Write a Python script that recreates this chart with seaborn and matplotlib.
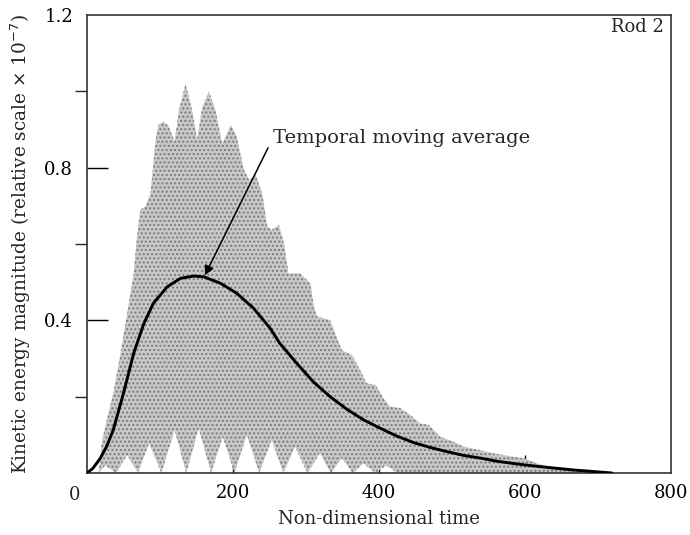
import numpy as np
import matplotlib
matplotlib.use("Agg")
import matplotlib.pyplot as plt
import seaborn as sns
import pandas as pd

# temporal moving average
avg_t = [0, 8, 18, 27, 36, 50, 64, 78, 91, 110, 128, 146, 160, 183, 205, 228,
         251, 264, 287, 310, 333, 356, 379, 402, 424, 447, 470, 493, 516, 539,
         561, 584, 600, 634, 666, 693, 719]
avg_y = [0.0, 0.012, 0.038, 0.07, 0.113, 0.209, 0.314, 0.392, 0.445, 0.488,
         0.510, 0.516, 0.514, 0.497, 0.471, 0.432, 0.379, 0.340, 0.288, 0.239,
         0.200, 0.167, 0.139, 0.117, 0.097, 0.080, 0.067, 0.056, 0.046, 0.039,
         0.031, 0.025, 0.021, 0.014, 0.008, 0.004, 0.0]

# upper envelope of the instantaneous kinetic energy
up_t = [16, 20, 27, 36, 46, 55, 64, 68, 73, 80, 87, 94, 98, 105, 112, 120,
        126, 135, 144, 151, 158, 167, 176, 185, 190, 197, 205, 215, 222, 231,
        240, 247, 253, 263, 270, 276, 292, 306, 310, 315, 333, 340, 349, 363,
        374, 383, 395, 406, 415, 429, 443, 456, 468, 484, 502, 516, 538, 561,
        584, 600, 616, 634, 657, 684, 716]
up_y = [0.0, 0.078, 0.139, 0.209, 0.314, 0.418, 0.523, 0.611, 0.690, 0.698,
        0.733, 0.873, 0.912, 0.921, 0.908, 0.868, 0.951, 1.02, 0.951, 0.873,
        0.960, 0.999, 0.951, 0.864, 0.882, 0.912, 0.882, 0.794, 0.768, 0.781,
        0.733, 0.646, 0.637, 0.650, 0.600, 0.523, 0.523, 0.497, 0.445, 0.410,
        0.401, 0.366, 0.322, 0.309, 0.270, 0.235, 0.231, 0.196, 0.174, 0.170,
        0.152, 0.130, 0.126, 0.095, 0.082, 0.069, 0.060, 0.050, 0.043, 0.038,
        0.025, 0.017, 0.011, 0.006, 0.0]

# lower envelope (oscillation minima)
low_t = [16, 25, 40, 55, 70, 85, 102, 120, 136, 153, 170, 186, 202, 219, 236,
         253, 269, 285, 302, 319, 334, 349, 364, 379, 395, 410, 425, 716]
low_y = [0, 0.02, 0, 0.047, 0, 0.078, 0, 0.113, 0, 0.117, 0, 0.095, 0, 0.100,
         0, 0.087, 0, 0.069, 0, 0.052, 0, 0.039, 0, 0.025, 0, 0.020, 0, 0]

x_ticks = [200, 400, 600, 800]
y_major = [0.4, 0.8, 1.2]
y_minor = [0.2, 0.6, 1.0]

sns.set_theme(style="ticks")
plt.rcParams["font.family"] = ["DejaVu Serif"]
plt.rcParams["hatch.linewidth"] = 1.0

fig = plt.figure(figsize=(6.9, 5.35), dpi=100)
ax = fig.add_axes([87 / 690, 62 / 535, 584 / 690, 458 / 535])

# stippled band
poly_x = np.concatenate([up_t, low_t[::-1]])
poly_y = np.concatenate([up_y, low_y[::-1]])
ax.fill(poly_x, poly_y, facecolor="#c8c8c8", edgecolor="#7a7a7a",
        hatch="....", linewidth=0, zorder=1)

df = pd.DataFrame({"t": avg_t, "ke": avg_y})
sns.lineplot(data=df, x="t", y="ke", color="black", linewidth=2.1, ax=ax,
             zorder=3)

ax.set_xlim(0, 800)
ax.set_ylim(0, 1.2)
ax.set_xticks(x_ticks)
ax.set_yticks(y_major)
ax.set_yticks(y_minor, minor=True)
ax.tick_params(axis="both", direction="in", labelsize=13, colors="black")
ax.tick_params(axis="y", which="major", length=15, width=1, pad=10)
ax.tick_params(axis="y", which="minor", length=9, width=1)
ax.tick_params(axis="x", which="major", length=13, width=1, pad=8)
# corner ticks sit on the frame in the original, hide their marks
ax.yaxis.get_major_ticks()[-1].tick1line.set_visible(False)
ax.xaxis.get_major_ticks()[-1].tick1line.set_visible(False)
for s in ax.spines.values():
    s.set_linewidth(1.2)
    s.set_color("#333333")

ax.text(-17, -0.035, "0", fontsize=13, ha="center", va="top")
ax.set_xlabel("Non-dimensional time", fontsize=13, labelpad=6)
ax.set_ylabel(r"Kinetic energy magnitude (relative scale $\times$ 10$^{-7}$)",
              fontsize=13.3, labelpad=8)

ax.text(790, 1.169, "Rod 2", fontsize=13, ha="right", va="center")
ax.text(255, 0.878, "Temporal moving average", fontsize=14, ha="left",
        va="center")
ax.annotate("", xy=(161.5, 0.518), xytext=(248, 0.852),
            arrowprops=dict(arrowstyle="-|>", color="black", lw=1.1,
                            shrinkA=0, shrinkB=0, mutation_scale=14))

fig.savefig("out.png", dpi=100)
